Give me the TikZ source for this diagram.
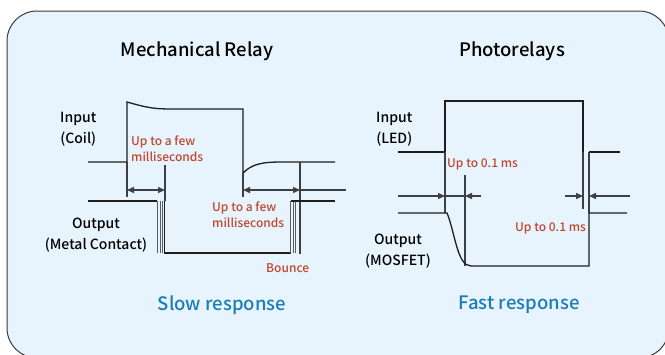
\documentclass[tikz,border=0pt]{standalone}
\usepackage{fontspec}
\setmainfont{Noto Sans CJK JP}[UprightFont=* Medium]
\usetikzlibrary{arrows.meta}
\definecolor{bgblue}{HTML}{E8F4FD}
\definecolor{frame}{HTML}{3A3A3A}
\definecolor{redlab}{HTML}{C0482F}
\definecolor{bluelab}{HTML}{1C7DB5}
\definecolor{wavec}{HTML}{1E1E1E}
\definecolor{extc}{HTML}{3C3F44}
\begin{document}
\begin{tikzpicture}[x=1pt,y=-1pt,
  wave/.style={draw=wavec,line width=1.3pt},
  ext/.style={draw=extc,line width=1.3pt},
  bnc/.style={draw=extc!85,line width=0.9pt},
  dim/.style={draw=extc,line width=1.3pt},
  tip/.style={-{Triangle[length=7pt,width=6pt]}},
  title/.style={font=\fontsize{18.5}{22}\selectfont,text=black,inner sep=0pt},
  lab/.style={font=\fontsize{14}{21}\selectfont,text=black,align=center,inner sep=0pt},
  red/.style={font=\fontsize{12}{16}\selectfont,text=redlab,align=left,inner sep=0pt},
  resp/.style={font=\fontsize{18.5}{22}\selectfont,text=bluelab,inner sep=0pt}]
\useasboundingbox (0,0) rectangle (665,354);
\begin{scope}
\clip (0,0) rectangle (665,354);
\draw[draw=frame,fill=bgblue,line width=1pt,rounded corners=30pt] (7,11) rectangle (669,358);
\end{scope}

% titles
\node[title] (t1) at (197,51) {Mechanical Relay};
\node[title] (t2) at (512,51) {Photorelays};

% ---------- Mechanical relay ----------
\node[lab,anchor=west] (in1) at (60,129) {Input\\(Coil)};
\node[lab] (out1) at (96,235) {Output\\(Metal Contact)};

% input waveform
\draw[wave] (88,162) -- (127,162) -- (127,102)
  .. controls (148,108) and (155,109) .. (172,109) -- (243,109) -- (243,173)
  .. controls (252,164) and (262,162) .. (282,162) -- (335,162);
% extension lines
\draw[ext] (127,162) -- (127,197);
\draw[ext] (243,173) -- (243,197);
\draw[ext] (165,165) -- (165,201);
\draw[ext] (300,162) -- (300,254);
% output waveform
\draw[wave] (88,201) -- (157,201);
\foreach \xx in {157.5,160,162.5} \draw[bnc] (\xx,201) -- (\xx,253);
\draw[wave] (164.5,201) -- (164.5,253) -- (291,253);
\foreach \xx in {290.5,293,295.5} \draw[bnc] (\xx,201) -- (\xx,253);
\draw[wave] (291,201) -- (335,201);
% dimension arrows
\coordinate (a1) at (127,190); \coordinate (b1) at (165,190);
\coordinate (mid1) at (146,190);
\draw[dim,tip] (mid1) -- (a1);
\draw[dim,tip] (mid1) -- (b1);
\coordinate (a2) at (243,190); \coordinate (b2) at (300,190);
\coordinate (mid2) at (271,190); \coordinate (e2) at (346,190);
\draw[dim,tip] (mid2) -- (a2);
\draw[dim,tip] (mid2) -- (b2);
\draw[dim] (b2) -- (e2);
% red labels
\node[red,anchor=west] (r1) at (131,149) {Up to a few\\milliseconds};
\node[red,anchor=west] (r2) at (212,215) {Up to a few\\milliseconds};
\node[red,anchor=west] (r3) at (266,268) {Bounce};
\node[resp] (s1) at (222,305) {Slow response};

% ---------- Photorelays ----------
\node[lab,anchor=west] (in2) at (376,129) {Input\\(LED)};
\node[lab] (out2) at (398,251) {Output\\(MOSFET)};

% input waveform
\draw[wave] (398,152) -- (445,152) -- (445,101) -- (583,101) -- (583,152);
\draw[wave] (589,152) -- (620,152);
% extensions
\draw[ext] (445,152) -- (445,213);
\draw[ext] (465,175) -- (465,266);
\draw[ext] (583,152) -- (583,209);
\draw[ext] (589,152) -- (589,213);
% output waveform
\draw[wave] (398,213) -- (447,213)
  .. controls (455,232) and (457,266) .. (471,266) -- (589,266) -- (589,213) -- (627,213);
% arrows
\coordinate (c1) at (398,196); \coordinate (d1) at (445,196);
\coordinate (c2) at (481,196); \coordinate (d2) at (465,196);
\draw[dim,tip] (c1) -- (d1);
\draw[dim] (d1) -- (d2);
\draw[dim,tip] (c2) -- (d2);
\coordinate (c3) at (565,196); \coordinate (d3) at (583,196);
\coordinate (c4) at (630,196); \coordinate (d4) at (589,196);
\draw[dim,tip] (c3) -- (d3);
\draw[dim,tip] (c4) -- (d4);
% red labels
\node[red,anchor=west] (r4) at (447,164) {Up to 0.1 ms};
\node[red,anchor=west] (r5) at (515,228) {Up to 0.1 ms};
\node[resp] (s2) at (519,305) {Fast response};
\end{tikzpicture}
\end{document}
